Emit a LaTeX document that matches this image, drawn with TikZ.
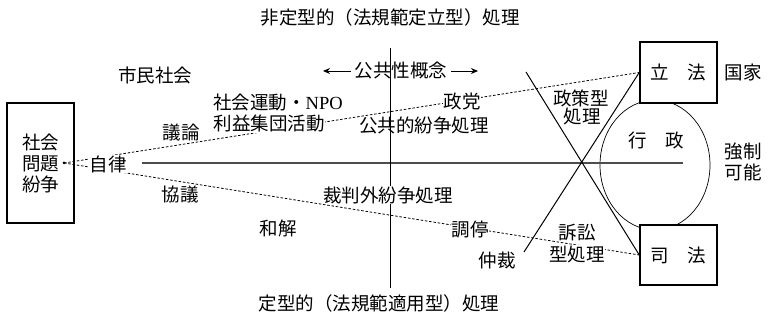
\documentclass[tikz,border=0pt]{standalone}
\usepackage{fontspec}
\setmainfont{Liberation Serif}
\newfontfamily\jp{Noto Sans CJK JP}
\usetikzlibrary{arrows.meta,shapes.geometric}
\begin{document}
\begin{tikzpicture}[x=1pt,y=-1pt,
  lbl/.style={font=\jp\fontsize{18.5}{21}\selectfont, inner sep=0pt},
  wlbl/.style={lbl, fill=white, inner sep=0.5pt},
  boxst/.style={draw, line width=1.5pt, fill=white, font=\jp\fontsize{18.5}{21}\selectfont, inner sep=0pt},
  dline/.style={dash pattern=on 2.5pt off 1.8pt, line width=0.8pt},
  xline/.style={line width=1pt},
  arr/.style={-{Stealth[length=7pt,width=6pt]}, line width=0.9pt}]
\useasboundingbox (0,0) rectangle (769,320);

% titles
\node[lbl] (title) at (390,17) {非定型的（法規範定立型）処理};
\node[lbl] (btitle) at (379,303) {定型的（法規範適用型）処理};

% ellipse (administration)
\node[draw, ellipse, line width=0.7pt, minimum width=110pt, minimum height=130pt, inner sep=0pt] (gyosei) at (655,165) {};

% boxes
\node[boxst, minimum width=67pt, minimum height=120pt, align=center] (mondai) at (40.5,163) {社会\\問題\\紛争};
\node[boxst, minimum width=77pt, minimum height=61pt] (rippo) at (678.5,72.5) {立　法};
\node[boxst, minimum width=77pt, minimum height=60pt] (shiho) at (678.5,255) {司　法};

% axes
\coordinate (hl) at (142,163);
\coordinate (hr) at (683,163);
\draw[line width=1.8pt, black!70] (hl) -- (hr);
\coordinate (vt) at (390,48);
\coordinate (vb) at (390,288);
\draw[line width=0.8pt] (vt) -- (vb);

% X lines
\coordinate (xa) at (526,72);
\coordinate (xb) at (524,252);
\draw[xline] (xa) -- (shiho.west);
\draw[xline] (rippo.west) -- (xb);

% dot and dashed lines
\coordinate (dot) at (64,163);
\draw[dline] (dot) -- (rippo.west);
\draw[dline] (dot) -- (shiho.west);
\fill (dot) circle (1.5pt);

% public concept arrows
\node[lbl] (gk) at (401,71) {公共性概念};
\coordinate (al) at (323,71);
\coordinate (ar) at (478,71);
\draw[arr] ([xshift=-4pt]gk.west) -- (al);
\draw[arr] ([xshift=4pt]gk.east) -- (ar);

% labels
\node[lbl] (shimin) at (155,75) {市民社会};
\node[lbl, anchor=west] (undo) at (213,103) {社会運動・{\rmfamily NPO}};
\node[wlbl, anchor=west] (rieki) at (213,124) {利益集団活動};
\node[lbl] (giron) at (181,133) {議論};
\node[wlbl] (seito) at (462,101) {政党};
\node[lbl] (kokyo) at (424,125) {公共的紛争処理};
\node[lbl] (seisaku) at (581,98) {政策型};
\node[lbl] (shori1) at (582,117) {処理};
\node[lbl] (gyo) at (656,140) {行　政};
\node[lbl] (kokka) at (743,73) {国家};
\node[lbl, align=center] (kyosei) at (743,161.5) {強制\\可能};
\node[wlbl] (jiritsu) at (108,164) {自律};
\node[lbl] (kyogi) at (180,195) {協議};
\node[wlbl] (saibangai) at (388,195) {裁判外紛争処理};
\node[lbl] (wakai) at (278,228) {和解};
\node[wlbl] (chotei) at (470,230) {調停};
\node[lbl] (chusai) at (497,260) {仲裁};
\node[lbl] (sosho) at (577,233) {訴訟};
\node[wlbl] (shori2) at (577,254) {型処理};
\end{tikzpicture}
\end{document}
